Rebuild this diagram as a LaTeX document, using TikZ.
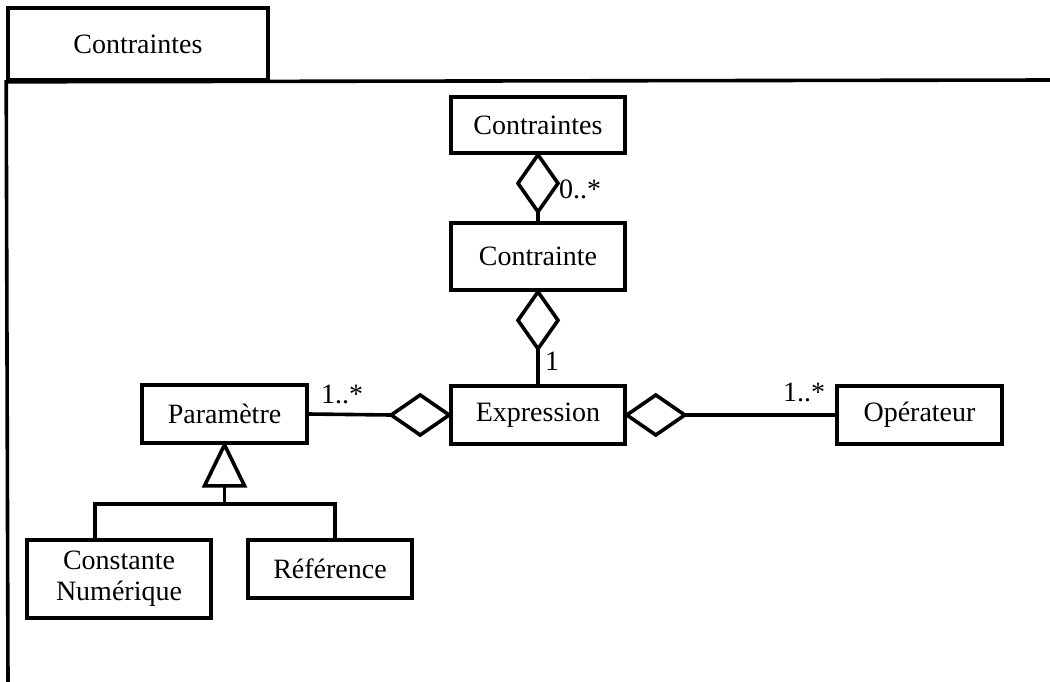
\documentclass[tikz,border=0pt]{standalone}
\usepackage{fontspec}
\setmainfont{Liberation Serif}
\usetikzlibrary{calc}
\begin{document}
\begin{tikzpicture}[x=1pt,y=-1pt,line width=3.6pt,line join=miter,
  cls/.style={draw,rectangle,inner sep=0pt,align=center,font=\fontsize{28}{31}\selectfont},
  mult/.style={inner sep=0pt,font=\fontsize{28}{31}\selectfont}]
\useasboundingbox (0,0) rectangle (1050,681);
% frame
\node[cls,minimum width=260pt,minimum height=72pt] (tab) at (138,44) {Contraintes};
\coordinate (fr) at (1052,80);
\coordinate (fb) at (8,683);
\draw (fr) -- (tab.south west) -- (fb);
% classes
\node[cls,minimum width=174pt,minimum height=56pt] (cs) at (538,125) {Contraintes};
\node[cls,minimum width=174pt,minimum height=67pt] (c) at (538,256.5) {Contrainte};
\node[cls,minimum width=174pt,minimum height=58pt] (e) at (538,415) {Expression};
\node[cls,minimum width=165pt,minimum height=58pt] (o) at (919.5,415) {Opérateur};
\node[cls,minimum width=165pt,minimum height=58pt] (p) at (224.5,414) {Paramètre};
\node[cls,minimum width=184pt,minimum height=78pt] (cn) at (119,579) {Constante\\Numérique};
\node[cls,minimum width=164pt,minimum height=58pt] (r) at (330,569) {Référence};
% aggregation Contraintes - Contrainte
\draw[fill=white] (cs.south) -- ++(20,28.5) -- ++(-20,28.5) coordinate (d1b) -- ++(-20,-28.5) -- cycle;
\draw (d1b) -- (c.north);
% aggregation Contrainte - Expression
\draw[fill=white] (c.south) -- ++(20,28.5) -- ++(-20,28.5) coordinate (d2b) -- ++(-20,-28.5) -- cycle;
\draw (d2b) -- (e.north);
% aggregation Expression - Operateur
\draw[fill=white] (e.east) -- ++(29,-20) -- ++(29,20) coordinate (d3b) -- ++(-29,20) -- cycle;
\draw (d3b) -- (o.west);
% aggregation Expression - Parametre
\draw[fill=white] (e.west) -- ++(-29,-20) -- ++(-29,20) coordinate (d4b) -- ++(29,20) -- cycle;
\draw (d4b) -- (p.east);
% generalization
\draw[fill=white] (p.south) -- ++(20,41) -- ++(-40,0) -- cycle;
\coordinate (tb) at ($(p.south)+(0,41)$);
\coordinate (jn) at ($(p.south)+(0,59)$);
\coordinate (lft) at ($(cn.north)+(-24,0)$);
\coordinate (rgt) at ($(r.north)+(5,0)$);
\draw (tb) -- (jn);
\draw (lft) |- (jn) -| (rgt);
% multiplicities
\node[mult] (m1) at (580,189) {0..*};
\node[mult] (m2) at (552,361) {1};
\node[mult] (m3) at (342,394) {1..*};
\node[mult] (m4) at (804,392) {1..*};
\end{tikzpicture}
\end{document}
